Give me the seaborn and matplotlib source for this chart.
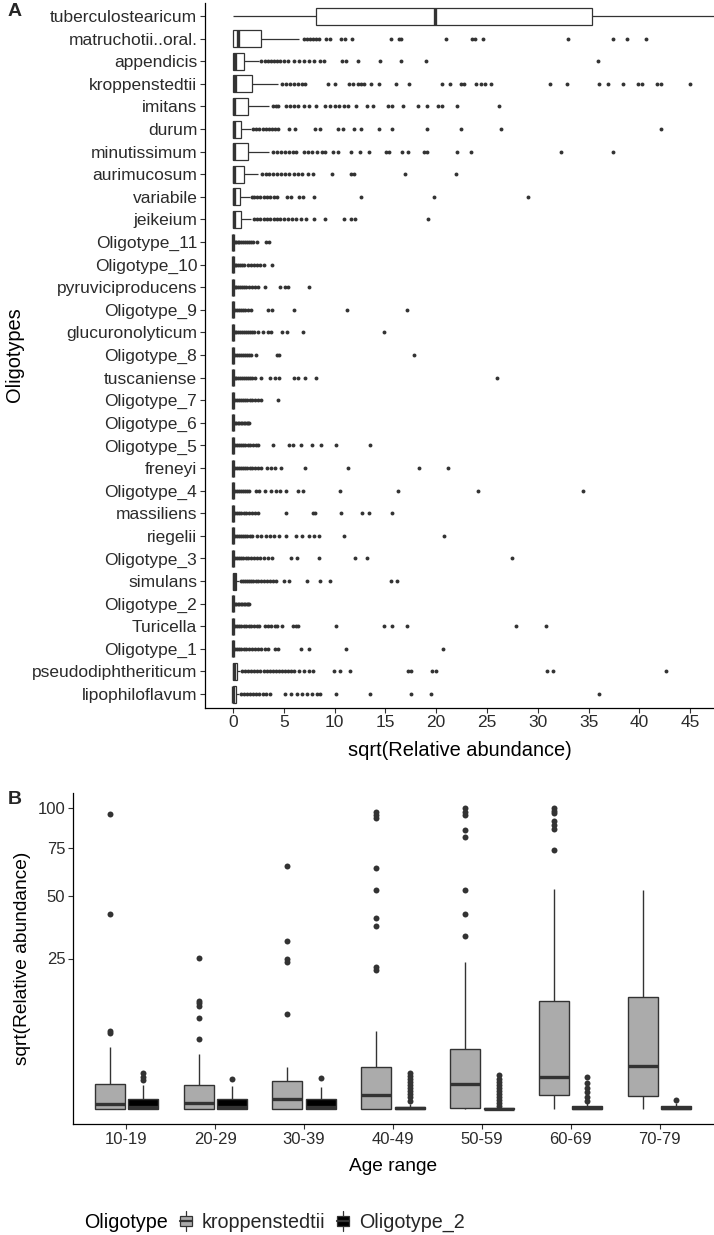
import numpy as np
import pandas as pd
import matplotlib
matplotlib.use("Agg")
import matplotlib.pyplot as plt
import seaborn as sns
from matplotlib.legend_handler import HandlerBase
from matplotlib.patches import Rectangle, Patch
from matplotlib.lines import Line2D

# ---------------- Panel A data (sqrt relative abundance) ----------------
categories = ["tuberculostearicum", "matruchotii..oral.", "appendicis", "kroppenstedtii",
              "imitans", "durum", "minutissimum", "aurimucosum", "variabile", "jeikeium",
              "Oligotype_11", "Oligotype_10", "pyruviciproducens", "Oligotype_9",
              "glucuronolyticum", "Oligotype_8", "tuscaniense", "Oligotype_7", "Oligotype_6",
              "Oligotype_5", "freneyi", "Oligotype_4", "massiliens", "riegelii", "Oligotype_3",
              "simulans", "Oligotype_2", "Turicella", "Oligotype_1", "pseudodiphtheriticum",
              "lipophiloflavum"]

a_lo = [0.0] * 31
a_q1 = [8.2] + [0.0] * 30
a_med = [19.9, 0.5, 0.2, 0.15, 0.12, 0.1, 0.12, 0.1, 0.05, 0.05,
         0, 0, 0, 0, 0, 0, 0, 0, 0, 0, 0, 0, 0, 0, 0,
         0.05, 0, 0, 0, 0.05, 0.03]
a_q3 = [35.3, 2.8, 1.1, 1.87, 1.5, 0.75, 1.5, 1.1, 0.7, 0.8,
        0, 0, 0, 0, 0, 0, 0, 0, 0, 0, 0, 0, 0, 0, 0,
        0.28, 0, 0, 0, 0.35, 0.3]
a_hi = [52.0, 6.5, 2.6, 4.4, 3.5, 1.75, 3.5, 2.5, 1.65, 1.8,
        0, 0, 0, 0, 0, 0, 0, 0, 0, 0, 0, 0, 0, 0, 0,
        0.6, 0, 0, 0, 0.7, 0.6]
a_out = [
    [],
    [7.0, 7.3, 7.6, 7.9, 8.2, 8.5, 9.15, 9.5, 10.6, 11.0, 11.7, 15.5, 16.3, 16.5, 20.95,
     23.5, 23.8, 24.6, 33.0, 37.4, 38.75, 40.6],
    [2.8, 3.1, 3.4, 3.7, 4.0, 4.3, 4.6, 5.0, 5.4, 6.0, 6.45, 7.0, 7.5, 8.0, 8.6, 9.0,
     10.7, 11.15, 12.3, 14.5, 16.5, 19.0, 35.9],
    [4.8, 5.2, 5.6, 6.0, 6.4, 6.8, 7.1, 9.3, 10.0, 11.4, 11.8, 12.3, 12.6, 12.9, 13.6,
     14.4, 16.0, 17.3, 20.6, 21.4, 22.4, 22.7, 23.9, 24.4, 24.8, 25.4, 31.2, 32.9, 36.0,
     36.9, 38.4, 39.9, 40.3, 41.7, 42.1, 45.0],
    [3.9, 4.2, 4.4, 5.2, 5.6, 6.0, 6.4, 7.0, 7.5, 8.2, 9.1, 9.5, 10.0, 10.4, 10.9, 11.3,
     12.1, 13.2, 13.8, 15.3, 15.6, 16.7, 18.2, 19.1, 20.2, 20.6, 22.0, 26.2],
    [1.95, 2.3, 2.6, 2.9, 3.2, 3.5, 3.8, 4.1, 4.4, 5.5, 6.1, 8.1, 8.6, 10.3, 10.8, 11.9,
     12.6, 14.4, 15.6, 19.1, 22.4, 26.4, 42.1],
    [3.9, 4.3, 4.7, 5.1, 5.5, 5.9, 6.2, 7.0, 7.4, 7.8, 8.3, 8.8, 9.1, 9.8, 10.3, 11.6,
     12.5, 13.4, 15.1, 15.4, 16.6, 17.2, 18.8, 19.1, 22.0, 23.4, 32.3, 37.4],
    [2.85, 3.2, 3.5, 3.9, 4.3, 4.7, 5.1, 5.5, 6.0, 6.4, 6.8, 7.4, 7.9, 9.7, 11.6, 11.9,
     16.9, 21.9],
    [1.85, 2.1, 2.4, 2.7, 3.0, 3.3, 3.6, 4.0, 4.3, 5.3, 5.7, 6.5, 6.9, 8.0, 12.6, 19.8, 29.0],
    [2.05, 2.4, 2.7, 3.0, 3.3, 3.6, 4.0, 4.3, 4.6, 5.0, 5.4, 5.8, 6.2, 6.7, 7.2, 8.0, 9.1,
     10.9, 11.6, 12.0, 19.2],
    [0.15, 0.3, 0.45, 0.6, 0.8, 1.0, 1.2, 1.4, 1.6, 1.8, 2.0, 2.4, 3.2, 3.5],
    [0.15, 0.3, 0.5, 0.7, 0.9, 1.1, 1.5, 1.8, 2.1, 2.4, 2.7, 3.0, 3.85],
    [0.15, 0.3, 0.5, 0.7, 0.9, 1.1, 1.3, 1.6, 1.9, 2.2, 2.5, 3.1, 4.65, 5.15, 5.45, 7.5],
    [0.2, 0.4, 0.6, 0.8, 1.0, 1.2, 1.45, 1.8, 3.4, 3.85, 6.0, 11.2, 17.1],
    [0.15, 0.3, 0.5, 0.7, 0.9, 1.1, 1.3, 1.5, 1.7, 1.9, 2.1, 2.45, 2.9, 3.4, 3.75, 4.8,
     5.3, 6.9, 14.9],
    [0.2, 0.4, 0.6, 0.8, 1.0, 1.2, 1.4, 1.6, 1.8, 2.3, 4.3, 4.55, 17.8],
    [0.15, 0.3, 0.5, 0.7, 0.9, 1.1, 1.3, 1.5, 1.7, 1.9, 2.2, 2.75, 3.6, 4.1, 4.55, 6.0,
     6.4, 7.1, 8.2, 26.0],
    [0.15, 0.35, 0.55, 0.75, 0.95, 1.15, 1.4, 1.65, 1.9, 2.2, 2.45, 2.75, 4.4],
    [0.15, 0.3, 0.45, 0.6, 0.75, 0.9, 1.05, 1.2, 1.35, 1.5, 1.6],
    [0.15, 0.35, 0.55, 0.75, 0.95, 1.2, 1.45, 1.7, 2.0, 2.3, 2.5, 3.9, 5.55, 5.9, 6.7,
     7.8, 8.7, 10.1, 13.5],
    [0.15, 0.35, 0.55, 0.75, 0.95, 1.15, 1.4, 1.65, 1.9, 2.2, 2.5, 2.8, 3.35, 3.7, 4.1,
     4.75, 7.1, 11.35, 18.3, 21.2],
    [0.15, 0.35, 0.55, 0.75, 0.95, 1.15, 1.35, 1.6, 2.25, 2.6, 3.1, 3.75, 4.2, 4.6, 5.2,
     6.35, 6.85, 10.55, 16.2, 24.1, 34.4],
    [0.15, 0.35, 0.55, 0.8, 1.05, 1.3, 1.6, 1.9, 2.2, 2.5, 5.2, 7.85, 8.1, 10.65, 12.7,
     13.35, 15.6],
    [0.15, 0.35, 0.55, 0.75, 0.95, 1.15, 1.4, 1.65, 1.9, 2.4, 2.8, 3.2, 3.6, 4.0, 4.55,
     5.2, 6.2, 6.8, 7.45, 8.0, 8.5, 10.9, 20.8],
    [0.15, 0.35, 0.55, 0.75, 1.0, 1.25, 1.5, 1.8, 2.1, 2.4, 2.7, 3.0, 3.4, 3.85, 5.75,
     6.25, 8.5, 12.0, 13.2, 27.5],
    [0.75, 0.95, 1.15, 1.35, 1.55, 1.75, 2.0, 2.25, 2.5, 2.75, 3.0, 3.3, 3.6, 3.9, 4.2,
     5.05, 5.5, 7.25, 8.6, 9.5, 15.55, 16.1],
    [0.15, 0.3, 0.45, 0.6, 0.75, 0.9, 1.05, 1.2, 1.35, 1.5, 1.6],
    [0.15, 0.35, 0.55, 0.8, 1.05, 1.3, 1.55, 1.8, 2.1, 2.35, 2.6, 3.1, 3.4, 3.75, 4.1,
     4.3, 4.8, 5.9, 6.2, 6.4, 10.1, 14.85, 15.65, 17.1, 27.9, 30.8],
    [0.15, 0.35, 0.55, 0.8, 1.05, 1.3, 1.6, 1.9, 2.2, 2.5, 2.8, 3.1, 3.4, 4.1, 4.45, 6.7,
     7.5, 11.1, 20.65],
    [0.9, 1.2, 1.5, 1.8, 2.1, 2.4, 2.7, 3.0, 3.3, 3.6, 3.9, 4.2, 4.5, 4.8, 5.1, 5.4, 5.7,
     6.0, 6.5, 7.0, 7.5, 7.9, 9.9, 10.5, 11.5, 17.2, 17.5, 19.6, 20.0, 30.9, 31.5, 42.6],
    [0.8, 1.1, 1.4, 1.7, 2.0, 2.3, 2.6, 2.9, 3.2, 3.6, 5.1, 5.7, 6.3, 6.8, 7.3, 7.8, 8.3,
     8.6, 10.1, 13.5, 17.5, 19.5, 36.0],
]
a_xticks = [0, 5, 10, 15, 20, 25, 30, 35, 40, 45]

# ---------------- Panel B data (sqrt units) ----------------
age_ranges = ["10-19", "20-29", "30-39", "40-49", "50-59", "60-69", "70-79"]
oligotypes = ["kroppenstedtii", "Oligotype_2"]
b_yticks = [25, 50, 75, 100]

kro_lo = [0, 0, 0, 0, 0, 0, 0]
kro_q1 = [0.0, 0.0, 0.0, 0.0, 0.04, 0.47, 0.43]
kro_med = [0.16, 0.21, 0.32, 0.46, 0.82, 1.07, 1.43]
kro_q3 = [0.83, 0.78, 0.93, 1.40, 1.99, 3.58, 3.71]
kro_hi = [2.07, 1.84, 1.39, 2.60, 4.88, 7.32, 7.29]
kro_out = [[2.53, 2.60, 6.48, 9.79],
           [2.34, 3.03, 3.43, 3.51, 3.60, 5.01],
           [3.16, 4.88, 4.97, 5.58, 8.08],
           [4.62, 4.71, 6.08, 6.34, 7.29, 8.02, 9.66, 9.77, 9.88],
           [5.74, 6.47, 7.27, 9.04, 9.27, 9.77, 9.88, 9.99],
           [8.62, 9.29, 9.43, 9.57, 9.82, 9.90, 9.99],
           []]

ol2_lo = [0, 0, 0, 0, 0, 0, 0]
ol2_q1 = [0, 0, 0, 0, 0, 0, 0]
ol2_med = [0.05, 0.05, 0.05, 0.02, 0.0, 0.02, 0.03]
ol2_q3 = [0.32, 0.32, 0.34, 0.08, 0.02, 0.09, 0.10]
ol2_hi = [0.78, 0.77, 0.74, 0.17, 0.04, 0.20, 0.20]
ol2_out = [[0.96, 1.07, 1.21],
           [1.0],
           [1.04],
           [0.27, 0.4, 0.5, 0.6, 0.7, 0.8, 0.9, 1.0, 1.1, 1.18],
           [0.1, 0.2, 0.3, 0.4, 0.5, 0.6, 0.7, 0.8, 0.9, 1.0, 1.13],
           [0.26, 0.4, 0.55, 0.7, 0.85, 1.07],
           [0.29]]


def expand(lo, q1, med, q3, hi, outs, n=100):
    """Sample whose quartiles/whiskers/outliers match the read statistics."""
    return [lo] + [q1] * n + [med] * n + [q3] * n + [hi] + list(outs)


rows = []
for i, c in enumerate(categories):
    for v in expand(a_lo[i], a_q1[i], a_med[i], a_q3[i], a_hi[i], a_out[i]):
        rows.append((c, v))
dfA = pd.DataFrame(rows, columns=["Oligotypes", "value"])

rows = []
for j, age in enumerate(age_ranges):
    for v in expand(kro_lo[j], kro_q1[j], kro_med[j], kro_q3[j], kro_hi[j], kro_out[j]):
        rows.append((age, "kroppenstedtii", v))
    for v in expand(ol2_lo[j], ol2_q1[j], ol2_med[j], ol2_q3[j], ol2_hi[j], ol2_out[j]):
        rows.append((age, "Oligotype_2", v))
dfB = pd.DataFrame(rows, columns=["Age range", "Oligotype", "value"])

# ---------------- styling ----------------
sns.set_theme(style="ticks")
plt.rcParams["font.family"] = ["Liberation Sans", "DejaVu Sans"]
EDGE = "#333333"
TXT = "#2b2b2b"

W, H = 714, 1235
fig = plt.figure(figsize=(W / 100, H / 100), dpi=100)


def fx(px):
    return px / W


def fy(py):
    return 1 - py / H


# Panel A
axA = fig.add_axes([fx(205), fy(707.6), fx(714) - fx(205), fy(2.5) - fy(707.6)])
sns.boxplot(data=dfA, x="value", y="Oligotypes", order=categories, orient="y",
            color="white", saturation=1, linecolor=EDGE, linewidth=0.9, width=0.75,
            fliersize=2.8, ax=axA, showcaps=False,
            flierprops=dict(marker="o", markerfacecolor=EDGE, markeredgecolor=EDGE,
                            markeredgewidth=0),
            medianprops=dict(linewidth=2.4, color=EDGE))
axA.set_xlim(-2.76, 47.34)
axA.set_ylim(len(categories) - 0.4, -0.6)
axA.set_xticks(a_xticks)
axA.set_xticklabels([str(t) for t in a_xticks])
axA.set_xlabel("sqrt(Relative abundance)", fontsize=14.4, color="black", labelpad=8)
axA.set_ylabel("Oligotypes", fontsize=14.4, color="black", labelpad=6)
axA.tick_params(axis="both", labelsize=12.5, labelcolor=TXT, color=EDGE, length=3.5,
                width=0.8, pad=2)
for s in ["top", "right"]:
    axA.spines[s].set_visible(False)
for s in ["left", "bottom"]:
    axA.spines[s].set_color("black")
    axA.spines[s].set_linewidth(0.9)

# Panel B
axB = fig.add_axes([fx(73), fy(1124), fx(713) - fx(73), fy(793) - fy(1124)])
sns.boxplot(data=dfB, x="Age range", y="value", hue="Oligotype", order=age_ranges,
            hue_order=oligotypes, palette={"kroppenstedtii": "#ababab", "Oligotype_2": "black"},
            saturation=1, linecolor=EDGE, linewidth=1.0, width=0.75, gap=0.1,
            fliersize=4.3, legend=False, ax=axB, showcaps=False,
            flierprops=dict(marker="o", markerfacecolor=EDGE, markeredgecolor=EDGE,
                            markeredgewidth=0),
            medianprops=dict(linewidth=2.4, color=EDGE))
axB.set_xlim(-0.6, len(age_ranges) - 0.4)
axB.set_ylim(-0.5, 10.5)
axB.set_yticks(np.sqrt(b_yticks))
axB.set_yticklabels([str(t) for t in b_yticks])
axB.set_xlabel("Age range", fontsize=13.8, color="black", labelpad=8)
axB.set_ylabel("sqrt(Relative abundance)", fontsize=13.8, color="black", labelpad=5)
axB.tick_params(axis="both", labelsize=12, labelcolor=TXT, color=EDGE, length=3.5,
                width=0.8, pad=2)
for s in ["top", "right"]:
    axB.spines[s].set_visible(False)
for s in ["left", "bottom"]:
    axB.spines[s].set_color("black")
    axB.spines[s].set_linewidth(0.9)

# panel tags
fig.text(fx(8), fy(12), "A", fontsize=14, fontweight="bold", va="center", ha="left")
fig.text(fx(8), fy(800), "B", fontsize=14, fontweight="bold", va="center", ha="left")


# legend with boxplot-style keys
class BoxHandler(HandlerBase):
    def create_artists(self, legend, orig_handle, xdescent, ydescent, width, height,
                       fontsize, trans):
        fc = orig_handle.get_facecolor()
        cx = -xdescent + width / 2
        y0 = -ydescent
        bw = width * 0.6
        whisk = Line2D([cx, cx], [y0 - height * 0.05, y0 + height * 1.05], color=EDGE,
                       lw=0.9, transform=trans)
        box = Rectangle((cx - bw / 2, y0 + height * 0.2), bw, height * 0.6, facecolor=fc,
                        edgecolor=EDGE, lw=0.9, transform=trans)
        med = Line2D([cx - bw / 2, cx + bw / 2], [y0 + height * 0.5] * 2, color=EDGE,
                     lw=1.6, transform=trans)
        return [whisk, box, med]


handles = [Patch(facecolor="#ababab", label="kroppenstedtii"),
           Patch(facecolor="black", label="Oligotype_2")]
fig.text(fx(84), fy(1222), "Oligotype", fontsize=14.2, color="black", va="center", ha="left")
fig.legend(handles=handles, labels=oligotypes, loc="center left",
           bbox_to_anchor=(fx(176), fy(1222)), ncol=2, frameon=False, fontsize=14.2,
           handler_map={Patch: BoxHandler()}, handlelength=1.0, handleheight=1.0,
           handletextpad=0.3, columnspacing=0.4, borderpad=0, borderaxespad=0)

fig.savefig("out.png", dpi=100)
